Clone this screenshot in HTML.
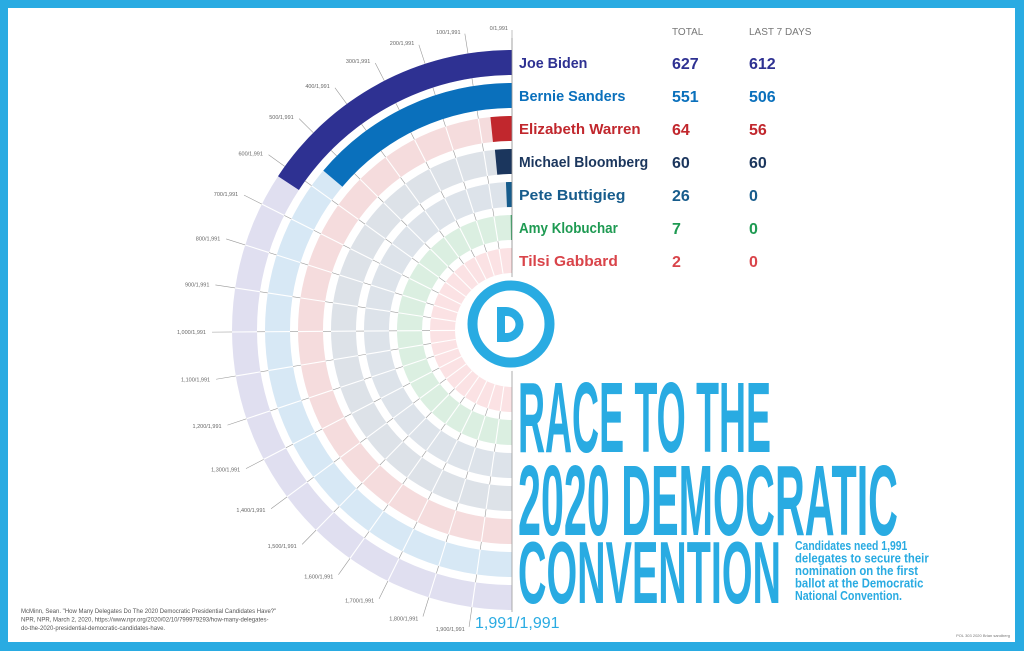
<!DOCTYPE html>
<html><head><meta charset="utf-8"><style>
html,body{margin:0;padding:0;background:#29abe2;}
#f{position:absolute;left:8px;top:8px;width:1007px;height:634px;background:#fff;}
svg{position:absolute;left:0;top:0;}
</style></head><body>
<div id="f"></div>
<svg id="s" width="1024" height="651" xmlns="http://www.w3.org/2000/svg" font-family="Liberation Sans, sans-serif"></svg>
<script>
const cx=512,cy=330,D=1991;
const C=[["Joe Biden",627,612,"#2e3192","#e0dff0"],["Bernie Sanders",551,506,"#0a70bc","#d7e8f5"],["Elizabeth Warren",64,56,"#c1272d","#f5dcdd"],["Michael Bloomberg",60,60,"#1b365d","#dde2e8"],["Pete Buttigieg",26,0,"#175c8c","#dde3ea"],["Amy Klobuchar",7,0,"#1e9a52","#dbefe1"],["Tilsi Gabbard",2,0,"#d9444a","#fbe2e4"]];
function P(r,t){t=t*Math.PI/180;return [cx-r*Math.sin(t),cy-r*Math.cos(t)];}
function seg(r1,r2,a,b){const p1=P(r2,a),p2=P(r2,b),p3=P(r1,b),p4=P(r1,a);
return `M${p1} A${r2},${r2} 0 0 0 ${p2} L${p3} A${r1},${r1} 0 0 1 ${p4}Z`;}
let h="";
for(let v=0;v<=1900;v+=100){const t=v/D*180;const a=P(60,t),b=P(300,t);
h+=`<line x1="${a[0]}" y1="${a[1]}" x2="${b[0]}" y2="${b[1]}" stroke="#999" stroke-width="0.6"/>`;
const q=P(302,t);h+=`<text x="${q[0]-4}" y="${q[1]+2}" font-size="5.5" fill="#666" text-anchor="end">${v.toLocaleString('en-US')}/1,991</text>`;}
C.forEach((c,i)=>{const ro=280-33*i,ri=ro-25;
h+=`<path d="${seg(ri,ro,0,90)}" fill="${c[4]}"/><path d="${seg(ri,ro,90,180)}" fill="${c[4]}"/>`;
for(let v=100;v<=1900;v+=100){const t=v/D*180;const a=P(ri,t),b=P(ro,t);
h+=`<line x1="${a[0]}" y1="${a[1]}" x2="${b[0]}" y2="${b[1]}" stroke="#fff" stroke-width="1.1"/>`;}
const a=c[1]/D*180;h+=`<path d="${seg(ri,ro,0,Math.max(a,0.3))}" fill="${c[3]}"/>`;
const y=63+33*i;
h+=`<text x="519" y="${y+5}" font-size="15" font-weight="bold" fill="${c[3]}" textLength="${c[0].length*7.6}" lengthAdjust="spacingAndGlyphs">${c[0]}</text>`;
h+=`<text x="672" y="${y+6}" font-size="16" font-weight="bold" fill="${c[3]}">${c[1]}</text>`;
h+=`<text x="749" y="${y+6}" font-size="16" font-weight="bold" fill="${c[3]}">${c[2]}</text>`;});
h+=`<line x1="512" y1="38" x2="512" y2="612" stroke="#999" stroke-width="0.8"/>`;
h+=`<text x="672" y="35" font-size="10" fill="#777">TOTAL</text><text x="749" y="35" font-size="10" fill="#777">LAST 7 DAYS</text>`;
h+=`<circle cx="511" cy="324" r="47" fill="#fff"/>`;
h+=`<circle cx="511" cy="324" r="38.5" fill="none" stroke="#29abe2" stroke-width="10"/>`;
h+=`<path d="M497,307 h9 a17.5,17.5 0 0 1 0,35 h-9 Z M505,316 v17 h2 a8.5,8.5 0 0 0 0,-17 Z" fill="#29abe2" fill-rule="evenodd"/>`;
h+=`<text x="518" y="452" font-size="100" font-weight="bold" fill="#29abe2" textLength="253" lengthAdjust="spacingAndGlyphs">RACE TO THE</text>`;
h+=`<text x="518" y="535" font-size="100" font-weight="bold" fill="#29abe2" textLength="380" lengthAdjust="spacingAndGlyphs">2020 DEMOCRATIC</text>`;
h+=`<text x="518" y="603" font-size="88" font-weight="bold" fill="#29abe2" textLength="263" lengthAdjust="spacingAndGlyphs">CONVENTION</text>`;
["Candidates need 1,991","delegates to secure their","nomination on the first","ballot at the Democratic","National Convention."].forEach((l,i)=>{
h+=`<text x="795" y="${550+12.5*i}" font-size="13" font-weight="bold" fill="#29abe2" textLength="${l.length*5.35}" lengthAdjust="spacingAndGlyphs">${l}</text>`;});
h+=`<text x="475" y="628" font-size="16" fill="#29abe2">1,991/1,991</text>`;
["McMinn, Sean. \"How Many Delegates Do The 2020 Democratic Presidential Candidates Have?\"","NPR, NPR, March 2, 2020, https://www.npr.org/2020/02/10/799979293/how-many-delegates-","do-the-2020-presidential-democratic-candidates-have."].forEach((l,i)=>{
h+=`<text x="21" y="${613+8.5*i}" font-size="6" fill="#555">${l}</text>`;});
h+=`<text x="1010" y="637" font-size="4" fill="#777" text-anchor="end">POL 303 2020 Brian sandberg</text>`;
document.getElementById('s').innerHTML=h;
</script>
</body></html>
